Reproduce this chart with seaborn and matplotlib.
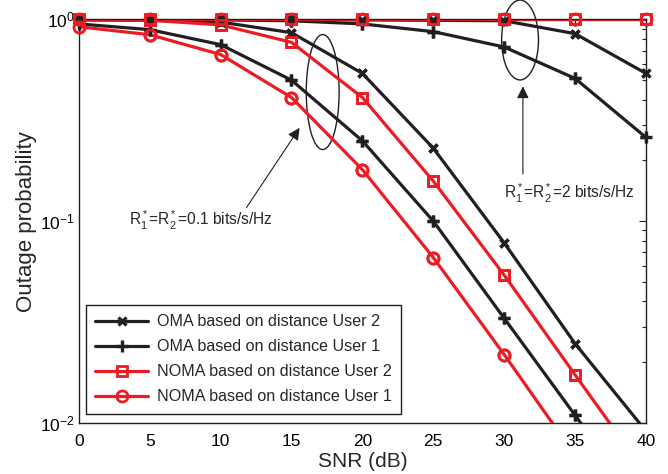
import numpy as np
import pandas as pd
import matplotlib
matplotlib.use("Agg")
import matplotlib.pyplot as plt
import seaborn as sns
from matplotlib.patches import Ellipse

snr = [0, 5, 10, 15, 20, 25, 30, 35, 40]

# Low target rate (R1*=R2*=0.1 bits/s/Hz)
oma_u2_low = [0.995, 0.99, 0.97, 0.86, 0.54, 0.23, 0.078, 0.0247, 0.0091]
oma_u1_low = [0.95, 0.89, 0.75, 0.50, 0.25, 0.10, 0.033, 0.0109, 0.0036]
noma_u2_low = [1.0, 0.99, 0.94, 0.77, 0.41, 0.158, 0.054, 0.0173, 0.0056]
noma_u1_low = [0.92, 0.84, 0.67, 0.41, 0.18, 0.066, 0.0218, 0.0069, 0.0022]

# High target rate (R1*=R2*=2 bits/s/Hz)
oma_u2_high = [1.0, 1.0, 1.0, 1.0, 0.995, 0.99, 0.985, 0.85, 0.54]
oma_u1_high = [1.0, 1.0, 0.995, 0.985, 0.95, 0.87, 0.73, 0.51, 0.26]
noma_u2_high = [1.0, 1.0, 1.0, 1.0, 1.0, 1.0, 1.0, 1.0, 1.0]
noma_u1_high = [1.0, 1.0, 1.0, 1.0, 1.0, 1.0, 1.0, 1.0, 1.0]

labels = ["OMA based on distance User 2", "OMA based on distance User 1",
          "NOMA based on distance User 2", "NOMA based on distance User 1"]

sns.set_theme(style="white")
plt.rcParams["font.family"] = ["Liberation Sans", "DejaVu Sans"]
plt.rcParams["mathtext.fontset"] = "custom"
plt.rcParams["mathtext.rm"] = "Liberation Sans"
plt.rcParams["mathtext.it"] = "Liberation Sans"
plt.rcParams["mathtext.bf"] = "Liberation Sans:bold"

BLACK = "#231f20"
RED = "#ed1c24"
YMIN = 1e-2

fig = plt.figure(figsize=(6.68, 4.74), dpi=100)
ax = fig.add_axes([0.118, 0.108, 0.849, 0.851])

styles = [
    (BLACK, "x", oma_u2_low, oma_u2_high, dict(mfc=BLACK, ms=6, mew=2.4)),
    (BLACK, "+", oma_u1_low, oma_u1_high, dict(mfc=BLACK, ms=8, mew=2.4)),
    (RED, "s", noma_u2_low, noma_u2_high, dict(mfc="none", ms=7, mew=2.0)),
    (RED, "o", noma_u1_low, noma_u1_high, dict(mfc="none", ms=8, mew=2.0)),
]

handles = []
for (color, marker, low, high, mk), lab in zip(styles, labels):
    for vals, keep in ((high, False), (low, True)):
        df = pd.DataFrame({"snr": snr, "p": vals})
        n0 = len(ax.lines)
        sns.lineplot(data=df, x="snr", y="p", ax=ax, color=color, lw=2.3,
                     marker=marker, mec=color, markerfacecolor=mk["mfc"],
                     markersize=mk["ms"], mew=mk["mew"], clip_on=True)
        if keep:
            handles.append(ax.lines[n0])
        # unclipped markers for points inside the visible range
        dfin = df[df["p"] >= YMIN]
        sns.lineplot(data=dfin, x="snr", y="p", ax=ax, color=color, lw=0,
                     linestyle="", marker=marker, mec=color,
                     markerfacecolor=mk["mfc"], markersize=mk["ms"],
                     mew=mk["mew"], clip_on=False, zorder=3)

ax.set_yscale("log")
ax.set_xlim(0, 40)
ax.set_ylim(YMIN, 1.0)
ax.set_xticks(snr)
ax.set_xticklabels([str(v) for v in snr])
ax.set_yticks([1e-2, 1e-1, 1e0])
ax.set_yticklabels([r"$10^{-2}$", r"$10^{-1}$", r"$10^{0}$"])
ax.tick_params(which="both", direction="in", top=True, right=True,
               colors=BLACK, labelcolor="black", labelsize=12.5)
ax.tick_params(which="major", length=5, width=0.8)
ax.tick_params(axis="x", which="major", pad=8)
ax.tick_params(axis="y", which="major", pad=3)
ax.tick_params(which="minor", length=3, width=0.8)
ax.minorticks_on()
ax.xaxis.set_minor_locator(matplotlib.ticker.NullLocator())
for sp in ax.spines.values():
    sp.set_color(BLACK)
    sp.set_linewidth(1.0)
ax.grid(False)

ax.set_xlabel("SNR (dB)", fontsize=15, labelpad=2)
ax.set_ylabel("Outage probability", fontsize=16, labelpad=2)

leg = ax.legend(handles, labels, loc="lower left",
                bbox_to_anchor=(0.012, 0.022), borderaxespad=0,
                fontsize=11.6, handlelength=3.3, handletextpad=0.5,
                labelspacing=0.62, borderpad=0.6, fancybox=False,
                framealpha=1, edgecolor=BLACK)
leg.get_frame().set_linewidth(1.0)

# Ellipses grouping curves
e1 = Ellipse((0.430, 0.820), 0.058, 0.285, transform=ax.transAxes,
             fill=False, ec=BLACK, lw=1.0, clip_on=False)
e2 = Ellipse((0.778, 0.949), 0.065, 0.198, transform=ax.transAxes,
             fill=False, ec=BLACK, lw=1.0, clip_on=False)
ax.add_patch(e1)
ax.add_patch(e2)

# Annotations
ax.annotate("", xy=(0.392, 0.737), xytext=(0.293, 0.528),
            xycoords="axes fraction", textcoords="axes fraction",
            arrowprops=dict(arrowstyle="-|>", color=BLACK, lw=0.8,
                            mutation_scale=18))
ax.text(0.216, 0.501, r"R$_1^*$=R$_2^*$=0.1 bits/s/Hz", transform=ax.transAxes,
        ha="center", va="center", fontsize=11.2)

ax.annotate("", xy=(0.783, 0.841), xytext=(0.783, 0.610),
            xycoords="axes fraction", textcoords="axes fraction",
            arrowprops=dict(arrowstyle="-|>", color=BLACK, lw=0.8,
                            mutation_scale=18))
ax.text(0.866, 0.568, r"R$_1^*$=R$_2^*$=2 bits/s/Hz", transform=ax.transAxes,
        ha="center", va="center", fontsize=11.2)

fig.savefig("out.png", dpi=100)
